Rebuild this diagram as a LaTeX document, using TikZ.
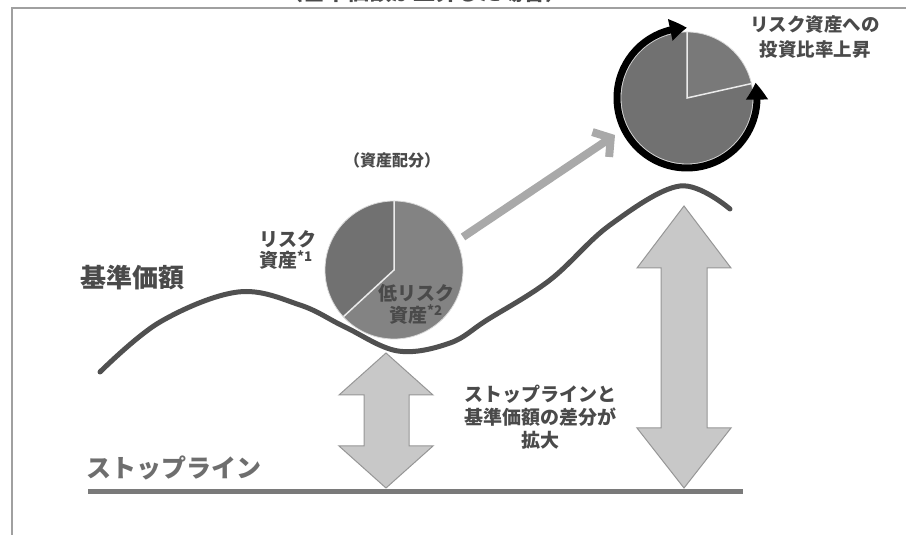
\documentclass[tikz,border=0pt]{standalone}
\usepackage{fontspec}
\newfontfamily\jp{Noto Sans CJK JP}
\usetikzlibrary{arrows.meta,bending}

\definecolor{framegray}{HTML}{A0A0A0}
\definecolor{textgray}{HTML}{4A4A4A}
\definecolor{wavegray}{HTML}{505050}
\definecolor{stopgray}{HTML}{7A7A7A}
\definecolor{riskgray}{HTML}{717171}
\definecolor{lowgray}{HTML}{838383}
\definecolor{arrowfill}{HTML}{C8C8C8}
\definecolor{arrowline}{HTML}{969696}
\definecolor{shiftgray}{HTML}{A9A9A9}

\begin{document}
\begin{tikzpicture}[x=1pt,y=1pt,
    txt/.style={font=\jp\bfseries\fontsize{19}{23}\selectfont, text=textgray, inner sep=0pt},
    bigarrow/.style={fill=arrowfill, draw=arrowline, line width=1pt, line join=miter},
    piering/.style={draw=white!85!black, line width=0.8pt},
    divider/.style={draw=white!92!black, line width=1.5pt}]
\useasboundingbox (0,0) rectangle (906,535);
\clip (0,0) rectangle (906,535);

% frame, and the title cut by the top edge
\draw[framegray, line width=1.5pt] (906,527) -- (12,527) -- (12,0);
\node[txt, anchor=base, font=\jp\bfseries\fontsize{22}{22}\selectfont] (title) at (424,534) {（基準価額が上昇した場合）};

% stop line
\coordinate (stopL) at (88,43);
\coordinate (stopR) at (743,43);
\draw[stopgray, line width=5pt] (stopL) -- (stopR);
\node[txt, anchor=west, text=textgray!80, font=\jp\bfseries\fontsize{25}{25}\selectfont] (stopname) at (86,67) {ストップライン};

% base price curve
\draw[wavegray, line width=5pt, line cap=round] plot[smooth, tension=0.6] coordinates
    {(100,163) (160,213) (238,243) (300,230) (345,208) (398,184) (450,192) (487,215) (550,255) (610,310) (680,349) (730,326)};
\node[txt, anchor=west, font=\jp\bfseries\fontsize{26}{26}\selectfont] (kijun) at (80,257) {基準価額};

% gap arrows
\draw[bigarrow] (386,182) -- (433,140) -- (409,140) -- (409,89) -- (433,89) -- (386,47)
    -- (339,89) -- (364,89) -- (364,140) -- (339,140) -- cycle;
\draw[bigarrow] (684,329) -- (731,267) -- (707,267) -- (707,107) -- (731,107) -- (684,47)
    -- (637,107) -- (661,107) -- (661,267) -- (637,267) -- cycle;
\node[txt, align=center] (gap) at (540,118) {ストップラインと\\基準価額の差分が\\拡大};

% allocation before
\coordinate (pieL) at (394,265);
\fill[riskgray] (pieL) -- ([shift={(90:69)}]pieL) arc[start angle=90, end angle=222.7, radius=69] -- cycle;
\fill[lowgray] (pieL) -- ([shift={(222.7:69)}]pieL) arc[start angle=222.7, end angle=450, radius=69] -- cycle;
\draw[divider] ([shift={(90:69)}]pieL) -- (pieL) -- ([shift={(222.7:69)}]pieL);
\draw[piering] (pieL) circle (69);
\node[txt, font=\jp\bfseries\fontsize{16}{16}\selectfont] (haibun) at (392,375) {（資産配分）};
\node[txt, anchor=west, align=left, font=\jp\bfseries\fontsize{19}{21}\selectfont] (risk) at (259,285) {リスク\\資産\textsuperscript{*1}};
\node[txt, align=center, font=\jp\bfseries\fontsize{19}{22}\selectfont] (lowrisk) at (416,231) {低リスク\\資産\textsuperscript{*2}};

% shift of the allocation
\coordinate (shiftS) at (463,298);
\coordinate (shiftE) at (615,400);
\draw[shiftgray, line width=8pt, -{Straight Barb[length=12pt,width=30pt]}] (shiftS) -- (shiftE);

% allocation after
\coordinate (pieR) at (687,437);
\fill[riskgray] (pieR) -- ([shift={(90:66)}]pieR) arc[start angle=90, end angle=372.6, radius=66] -- cycle;
\fill[lowgray!108] (pieR) -- ([shift={(12.6:66)}]pieR) arc[start angle=12.6, end angle=90, radius=66] -- cycle;
\draw[divider] ([shift={(90:66)}]pieR) -- (pieR) -- ([shift={(12.6:66)}]pieR);
\draw[piering] (pieR) circle (66);
\draw[black, line width=7pt, {Triangle[length=17pt,width=21pt,bend]}-{Triangle[length=17pt,width=21pt,bend]}]
    ([shift={(90:70)}]pieR) arc[start angle=90, end angle=372.6, radius=70];
\node[txt, align=center, font=\jp\bfseries\fontsize{18.5}{25}\selectfont] (ratio) at (815,498) {リスク資産への\\投資比率上昇};
\end{tikzpicture}
\end{document}
